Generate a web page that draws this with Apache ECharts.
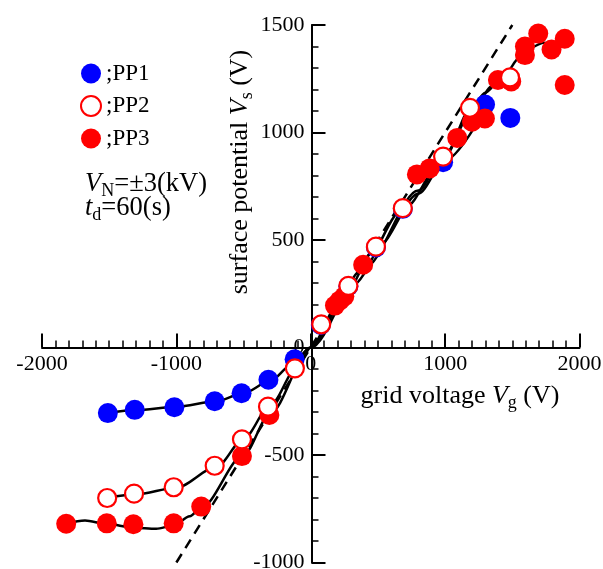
<!DOCTYPE html>
<html><head><meta charset="utf-8">
<script src="https://cdn.jsdelivr.net/npm/echarts@6/dist/echarts.min.js"></script>
<style>html,body{margin:0;padding:0;background:#fff}#c{width:603px;height:569px}</style>
</head><body><div id="c"></div>
<script>
// axis ranges / ticks
const xRange = [-2000, 2000], xStep = 1000;
const yRange = [-1000, 1500], yStep = 500;

// measured points [grid voltage Vg, surface potential Vs]
const pp1 = [[-1510,-305],[-1310,-290],[-1015,-278],[-715,-250],[-515,-213],[-315,-150],[-120,-55],
             [75,105],[280,285],[485,465],[685,645],[985,862],[1297,1130],[1485,1068]];
const pp2 = [[-1515,-700],[-1315,-680],[-1020,-650],[-715,-550],[-512,-427],[-318,-275],[-118,-97],
             [78,108],[280,287],[485,469],[685,648],[985,888],[1185,1115],[1483,1256]];
const pp3 = [[-1820,-820],[-1518,-818],[-1320,-822],[-1020,-818],[-815,-740],[-512,-505],[-308,-314],
             [180,195],[215,218],[250,238],[390,385],[790,805],[885,833],[1090,975],[1200,1050],
             [1296,1065],[1393,1244],[1492,1237],[1594,1400],[1594,1360],[1693,1460],[1792,1386],
             [1890,1436],[1890,1221]];

// fitted curves
const fit1 = [[-1515,-305],[-1300,-291],[-1000,-276],[-700,-250],[-500,-212],[-300,-155],[-150,-85],[0,0],
              [200,195],[500,470],[800,715],[1000,870],[1300,1110]];
const fit2 = [[-1515,-700],[-1300,-683],[-1000,-652],[-700,-555],[-500,-425],[-300,-268],[-100,-90],[0,0],
              [300,285],[700,650],[1000,890],[1185,1105],[1300,1185],[1400,1238],[1483,1258]];
const fit3 = [[-1820,-820],[-1680,-805],[-1520,-820],[-1320,-838],[-1150,-843],[-1020,-828],[-900,-785],[-815,-745],
              [-500,-500],[-300,-305],[0,0],[400,370],[800,730],[1000,900],[1200,1100],[1350,1215],[1450,1275],
              [1550,1345],[1650,1398],[1730,1418],[1780,1415]];
const identity = [[-1000,-1000],[1500,1500]];

const FONT = 'Liberation Serif';
const chart = echarts.init(document.getElementById('c'));
const lineS = (d) => ({type:'line', data:d, showSymbol:false, smooth:0.3, smoothMonotone:'x',
  lineStyle:{color:'#000', width:2.5}, z:2, silent:true});
const rich = (fs) => ({
  i:{fontFamily:FONT, fontSize:fs, fontStyle:'italic', lineHeight:fs+6, color:'#000'},
  n:{fontFamily:FONT, fontSize:fs, lineHeight:fs+6, color:'#000'},
  s:{fontFamily:FONT, fontSize:Math.round(fs*0.68), lineHeight:Math.round(fs*0.68), verticalAlign:'bottom', color:'#000'}
});

chart.setOption({
  animation:false,
  textStyle:{fontFamily:FONT, color:'#000'},
  grid:{left:42, right:23.5, top:25, bottom:6.5, containLabel:false, outerBoundsMode:'none'},
  xAxis:{type:'value', min:xRange[0], max:xRange[1], interval:xStep, position:'bottom', offset:-215,
    axisLine:{onZero:false, lineStyle:{color:'#000', width:2}},
    axisTick:{inside:true, length:14, lineStyle:{color:'#000', width:2}},
    minorTick:{show:true, splitNumber:10, length:7, lineStyle:{color:'#000', width:1.5}},
    axisLabel:{fontFamily:FONT, fontSize:22, color:'#000', margin:6, formatter:(v)=>String(v)},
    splitLine:{show:false}},
  yAxis:{type:'value', min:yRange[0], max:yRange[1], interval:yStep, position:'left', offset:-269.5,
    axisLine:{onZero:false, lineStyle:{color:'#000', width:2}},
    axisTick:{inside:true, length:14, lineStyle:{color:'#000', width:2}},
    minorTick:{show:true, splitNumber:5, length:7, lineStyle:{color:'#000', width:1.5}},
    axisLabel:{fontFamily:FONT, fontSize:22, color:'#000', margin:7, formatter:(v)=>String(v)},
    splitLine:{show:false}},
  legend:{data:['PP1','PP2','PP3'], orient:'vertical', left:80, top:62, padding:0,
    itemWidth:20, itemHeight:20, itemGap:9.5, icon:'circle',
    formatter:(n)=>';'+n,
    textStyle:{fontFamily:FONT, fontSize:23, color:'#000', lineHeight:20, height:20}},
  graphic:[
    {type:'text', left:85, top:171, style:{rich:rich(26.5), text:'{i|V}{s|N}{n|=±3(kV)}'}},
    {type:'text', left:85, top:195, style:{rich:rich(26.5), text:'{i|t}{s|d}{n|=60(s)}'}},
    {type:'text', x:240, y:172, rotation:Math.PI/2, style:{
      align:'center', verticalAlign:'middle', rich:rich(26),
      text:'{n|surface potential }{i|V}{s|s}{n| (V)}'}},
    {type:'text', x:460, y:396, style:{
      align:'center', verticalAlign:'middle', rich:rich(26),
      text:'{n|grid voltage }{i|V}{s|g}{n| (V)}'}}
  ],
  series:[
    {type:'line', data:identity, showSymbol:false, lineStyle:{color:'#000', width:2.5, type:[10,7]}, z:2, silent:true},
    lineS(fit1), lineS(fit2), lineS(fit3),
    {name:'PP1', type:'scatter', data:pp1, symbol:'circle', symbolSize:20, itemStyle:{color:'#0000ff', opacity:1}, z:3},
    {name:'PP3', type:'scatter', data:pp3, symbol:'circle', symbolSize:20, itemStyle:{color:'#ff0000', opacity:1}, z:4},
    {name:'PP2', type:'scatter', data:pp2, symbol:'circle', symbolSize:18,
      itemStyle:{color:'#ffffff', borderColor:'#ff0000', borderWidth:2.2, opacity:1}, z:5}
  ]
});
</script></body></html>
